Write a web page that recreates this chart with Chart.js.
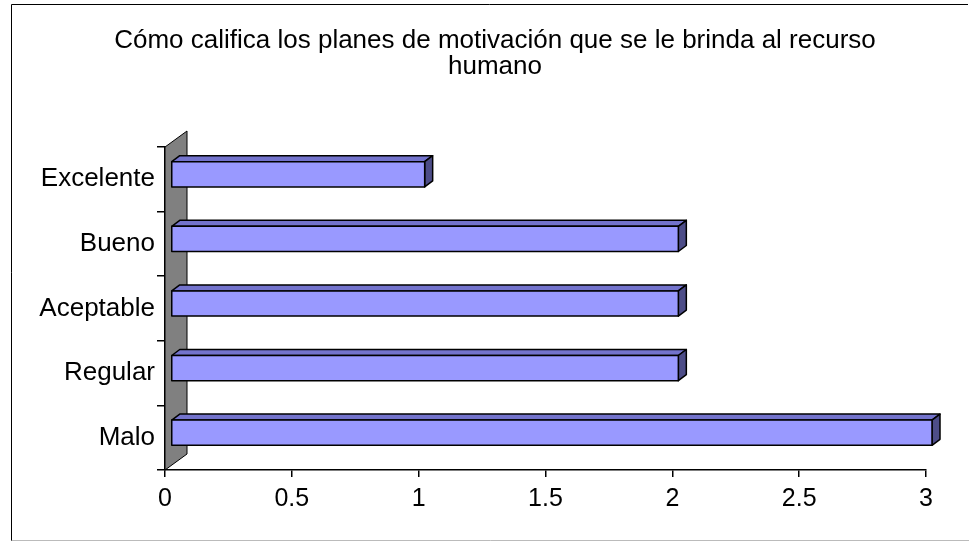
<!DOCTYPE html>
<html>
<head>
<meta charset="utf-8">
<script src="https://cdn.jsdelivr.net/npm/chart.js@4/dist/chart.umd.min.js"></script>
<style>
  html, body { margin: 0; padding: 0; background: #fff; }
  #wrap { position: relative; width: 969px; height: 542px; }
</style>
</head>
<body>
<div id="wrap"><canvas id="chart" width="969" height="542"></canvas></div>
<script>
// datos del gráfico
const titulo = ['Cómo califica los planes de motivación que se le brinda al recurso', 'humano'];
const categorias = ['Excelente', 'Bueno', 'Aceptable', 'Regular', 'Malo'];
const valores = [1, 2, 2, 2, 3];

const FONT = "'Liberation Sans', Arial, sans-serif";

// título, pared gris y marco (efecto 3D tipo Excel)
const wallPlugin = {
    id: 'wall3d',
    beforeDatasetsDraw(chart) {
        const { ctx, chartArea } = chart;
        const l = chartArea.left, t = chartArea.top, b = chartArea.bottom;
        ctx.save();
        ctx.beginPath();
        ctx.moveTo(l, t);
        ctx.lineTo(l + 22, t - 16);
        ctx.lineTo(l + 22, b - 16);
        ctx.lineTo(l, b);
        ctx.closePath();
        ctx.fillStyle = '#808080';
        ctx.fill();
        ctx.strokeStyle = '#000';
        ctx.lineWidth = 1;
        ctx.stroke();
        ctx.restore();
    },
    afterDraw(chart) {
        const ctx = chart.ctx;
        ctx.save();
        // título centrado como en el original
        ctx.fillStyle = '#000';
        ctx.font = '26px ' + FONT;
        ctx.textAlign = 'center';
        ctx.textBaseline = 'middle';
        titulo.forEach((linea, i) => ctx.fillText(linea, 495, 41 + i * 26));
        // marco
        ctx.lineWidth = 1;
        ctx.strokeStyle = '#000';
        ctx.beginPath();
        ctx.moveTo(11.5, 541);
        ctx.lineTo(11.5, 4.5);
        ctx.lineTo(968, 4.5);
        ctx.stroke();
        ctx.strokeStyle = '#bbb';
        ctx.beginPath();
        ctx.moveTo(11.5, 540.5);
        ctx.lineTo(969, 540.5);
        ctx.stroke();
        ctx.restore();
    }
};

// barras con caras superior y lateral
const bar3dPlugin = {
    id: 'bar3d',
    afterDatasetsDraw(chart) {
        const { ctx } = chart;
        const meta = chart.getDatasetMeta(0);
        const dx = 6, dy = -5, px = 8, py = -6;
        ctx.save();
        ctx.lineWidth = 1.5;
        ctx.strokeStyle = '#000';
        ctx.lineJoin = 'round';
        meta.data.forEach(el => {
            const p = el.getProps(['x', 'y', 'base', 'height'], true);
            const x0 = p.base + dx, x1 = p.x + dx;
            const y0 = p.y - p.height / 2 + dy, y1 = p.y + p.height / 2 + dy;
            // cara superior
            ctx.beginPath();
            ctx.moveTo(x0, y0);
            ctx.lineTo(x0 + px, y0 + py);
            ctx.lineTo(x1 + px, y0 + py);
            ctx.lineTo(x1, y0);
            ctx.closePath();
            ctx.fillStyle = '#7373cc';
            ctx.fill();
            ctx.stroke();
            // cara lateral
            ctx.beginPath();
            ctx.moveTo(x1, y0);
            ctx.lineTo(x1 + px, y0 + py);
            ctx.lineTo(x1 + px, y1 + py);
            ctx.lineTo(x1, y1);
            ctx.closePath();
            ctx.fillStyle = '#4d4d88';
            ctx.fill();
            ctx.stroke();
            // cara frontal
            ctx.fillStyle = '#9999ff';
            ctx.fillRect(x0, y0, x1 - x0, y1 - y0);
            ctx.strokeRect(x0, y0, x1 - x0, y1 - y0);
        });
        ctx.restore();
    }
};

new Chart(document.getElementById('chart'), {
    type: 'bar',
    data: {
        labels: categorias,
        datasets: [{
            data: valores,
            backgroundColor: 'rgba(0,0,0,0)',
            borderWidth: 0,
            categoryPercentage: 1,
            barPercentage: 0.39
        }]
    },
    options: {
        indexAxis: 'y',
        responsive: false,
        animation: false,
        events: [],
        layout: { padding: { left: 0, right: 43, top: 147, bottom: 0 } },
        plugins: {
            legend: { display: false },
            tooltip: { enabled: false },
            title: { display: false }
        },
        scales: {
            x: {
                min: 0,
                max: 3,
                ticks: {
                    stepSize: 0.5,
                    color: '#000',
                    font: { family: FONT, size: 25 },
                    padding: 7,
                    maxRotation: 0,
                    callback: v => String(v)
                },
                grid: { drawOnChartArea: false, tickLength: 7, color: '#000', lineWidth: 1.5 },
                border: { color: '#000', width: 1.5 },
                afterFit(scale) { scale.height = 72; }
            },
            y: {
                ticks: {
                    color: '#000',
                    font: { family: FONT, size: 26 },
                    padding: 2
                },
                grid: { drawOnChartArea: false, tickLength: 8, color: '#000', lineWidth: 1.5, offset: true },
                border: { color: '#000', width: 1.5 },
                afterFit(scale) { scale.width = 165; }
            }
        }
    },
    plugins: [wallPlugin, bar3dPlugin]
});
</script>
</body>
</html>
